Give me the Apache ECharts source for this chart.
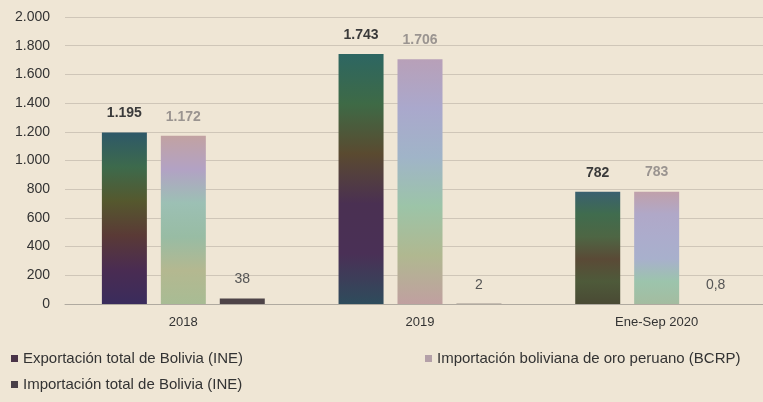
<!DOCTYPE html>
<html>
<head>
<meta charset="utf-8">
<script src="https://cdn.jsdelivr.net/npm/echarts@6/dist/echarts.min.js"></script>
<style>
  html, body { margin: 0; padding: 0; background: #efe6d5; overflow: hidden; }
  /* el gráfico original está recortado a la derecha */
  #main { width: 775px; height: 402px; }
</style>
</head>
<body>
<div id="main"></div>
<script>
// datos (millones de US$)
var categorias = ['2018', '2019', 'Ene-Sep 2020'];
var exportBolivia = [1195, 1743, 782];
var importOroPeru = [1172, 1706, 783];
var importBolivia = [38, 2, 0.8];
var nombres = [
  'Exportación total de Bolivia (INE)',
  'Importación boliviana de oro peruano (BCRP)',
  'Importación total de Bolivia (INE)'
];
var yTicks = [0, 200, 400, 600, 800, 1000, 1200, 1400, 1600, 1800, 2000];

// colores de las barras (degradado del escaneo)
var coloresExport = [
  ['#2e5868', '#3d6a4c', '#55582e', '#5a3a36', '#4a2c52', '#3a2c5c'],
  ['#2d6662', '#3e6a46', '#5a4a30', '#4a3052', '#4a3056', '#2e4c5c'],
  ['#3a6070', '#406c4e', '#4e6644', '#5a4a36', '#4e5a3a', '#4a4a34']
];
var coloresImport = [
  ['#c2a2a2', '#b2a2c4', '#9cc0b4', '#98bca4', '#b4b890', '#a8bc94'],
  ['#b8a0b8', '#aaa8cc', '#a0b4c8', '#9cc4a8', '#b0b890', '#c0a0a0'],
  ['#c0a0aa', '#b0a8c8', '#acaccc', '#a8b0cc', '#9cc4ac', '#a4bca0']
];

function formatoNum(v) {
  var s = String(v).replace('.', ',');
  var partes = s.split(',');
  partes[0] = partes[0].replace(/\B(?=(\d{3})+(?!\d))/g, '.');
  return partes.join(',');
}

function degradado(cols) {
  var stops = [];
  for (var i = 0; i < cols.length; i++) {
    stops.push({ offset: i / (cols.length - 1), color: cols[i] });
  }
  return new echarts.graphic.LinearGradient(0, 0, 0, 1, stops);
}

function armarDatos(valores, colores) {
  var out = [];
  for (var i = 0; i < valores.length; i++) {
    out.push({ value: valores[i], itemStyle: { color: degradado(colores[i]) } });
  }
  return out;
}

var fuente = 'Liberation Sans, Arial, sans-serif';

var option = {
  backgroundColor: '#efe6d5',
  animation: false,
  textStyle: { fontFamily: fuente },
  grid: { left: 65, right: 0, top: 17, bottom: 98 },
  legend: [
    {
      orient: 'vertical',
      left: 6,
      top: 346,
      itemWidth: 7,
      itemHeight: 7,
      itemGap: 11,
      icon: 'rect',
      textStyle: { fontSize: 15, color: '#333', fontFamily: fuente },
      data: [
        { name: nombres[0], itemStyle: { color: '#4a3448' } },
        { name: nombres[2], itemStyle: { color: '#4a4048' } }
      ]
    },
    {
      orient: 'vertical',
      left: 420,
      top: 346,
      itemWidth: 7,
      itemHeight: 7,
      icon: 'rect',
      textStyle: { fontSize: 15, color: '#333', fontFamily: fuente },
      data: [
        { name: nombres[1], itemStyle: { color: '#b4a0a8' } }
      ]
    }
  ],
  xAxis: {
    type: 'category',
    data: categorias,
    axisLine: { lineStyle: { color: '#b0aaa0' } },
    axisTick: { show: false },
    axisLabel: { color: '#333', fontSize: 13, margin: 12, fontFamily: fuente }
  },
  yAxis: {
    type: 'value',
    min: 0,
    max: 2000,
    interval: 200,
    axisLine: { show: false },
    axisTick: { show: false },
    axisLabel: {
      color: '#333',
      fontSize: 14,
      margin: 15,
      fontFamily: fuente,
      formatter: function (v) { return yTicks.indexOf(v) >= 0 ? formatoNum(v) : ''; }
    },
    splitLine: { lineStyle: { color: '#cfc6b8', width: 1 } }
  },
  series: [
    {
      name: nombres[0],
      type: 'bar',
      barWidth: 45,
      barGap: '31%',
      data: armarDatos(exportBolivia, coloresExport),
      label: {
        show: true, position: 'top', distance: 12,
        color: '#3a3a3a', fontSize: 14, fontWeight: 'bold', fontFamily: fuente,
        formatter: function (p) { return formatoNum(p.value); }
      }
    },
    {
      name: nombres[1],
      type: 'bar',
      barWidth: 45,
      data: armarDatos(importOroPeru, coloresImport),
      label: {
        show: true, position: 'top', distance: 12,
        color: '#9a9490', fontSize: 14, fontWeight: 'bold', fontFamily: fuente,
        formatter: function (p) { return formatoNum(p.value); }
      }
    },
    {
      name: nombres[2],
      type: 'bar',
      barWidth: 45,
      itemStyle: { color: '#4e4448' },
      data: importBolivia,
      label: {
        show: true, position: 'top', distance: 12,
        color: '#555', fontSize: 14, fontFamily: fuente,
        formatter: function (p) { return formatoNum(p.value); }
      }
    }
  ]
};

var myChart = echarts.init(document.getElementById('main'));
myChart.setOption(option);
</script>
</body>
</html>
